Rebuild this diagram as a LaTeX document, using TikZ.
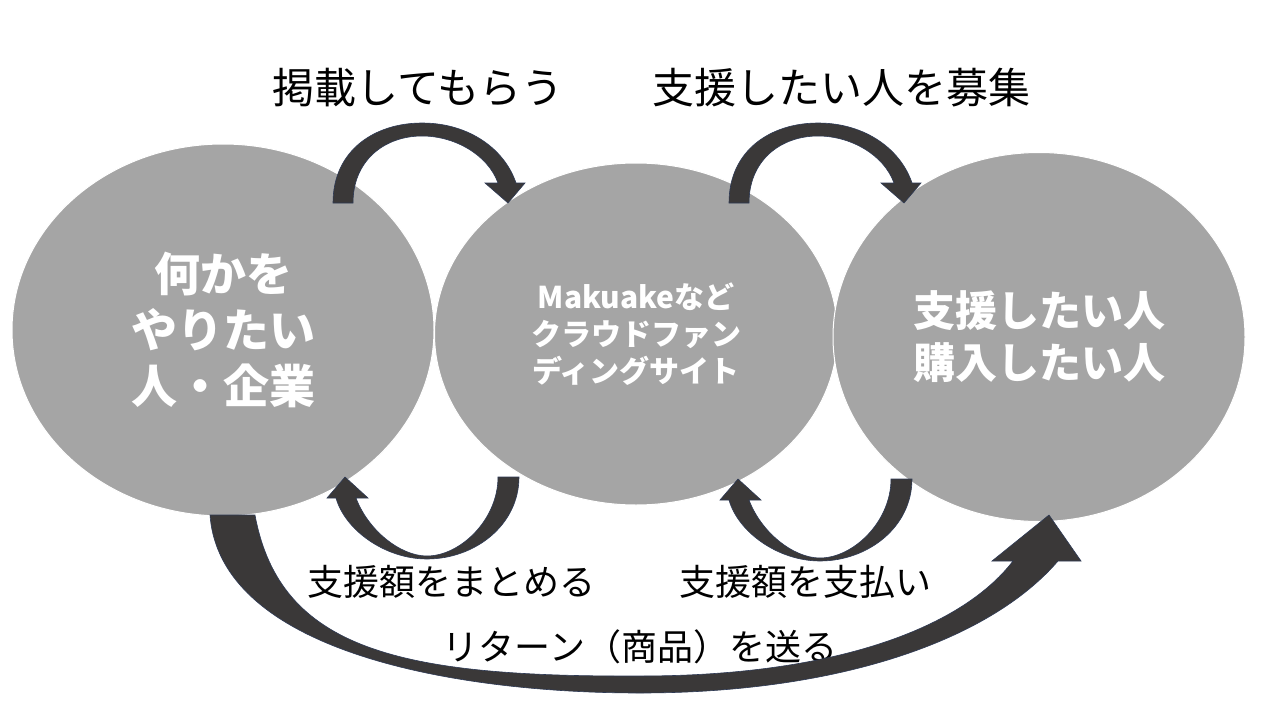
\documentclass[tikz,border=0pt]{standalone}
\usepackage{fontspec}
\newfontfamily\jp{Noto Sans CJK JP}
\usetikzlibrary{shapes.geometric}
\definecolor{bubblegray}{HTML}{A5A5A5}
\definecolor{arrowfill}{HTML}{3A3838}
\definecolor{arrowline}{HTML}{2E3A55}

\begin{document}
\begin{tikzpicture}[x=1pt,y=-1pt,
  bubble/.style={ellipse, fill=bubblegray, draw=white, line width=1pt, inner sep=0pt, text=white, align=center},
  bigarrow/.style={fill=arrowfill, draw=arrowline, line width=0.6pt},
  caption/.style={font=\jp\fontsize{42}{50}\selectfont},
  smallcaption/.style={font=\jp\fontsize{36}{44}\selectfont}]
  \useasboundingbox[fill=white] (0,0) rectangle (1280,720);

  \node[bubble, minimum width=422pt, minimum height=372pt, font=\jp\bfseries\fontsize{46}{56}\selectfont] (maker) at (223,330) {何かを\\やりたい\\人・企業};
  \node[bubble, minimum width=403pt, minimum height=342pt, font=\jp\bfseries\fontsize{30}{37}\selectfont] (site) at (636,334) {Makuakeなど\\クラウドファン\\ディングサイト};
  \node[bubble, minimum width=412pt, minimum height=369pt, font=\jp\bfseries\fontsize{42}{52}\selectfont] (backer) at (1039,337) {支援したい人\\購入したい人};

  \node[caption] (post) at (418,88) {掲載してもらう};
  \node[caption] (recruit) at (841,88) {支援したい人を募集};
  \node[smallcaption] (pool) at (451,582) {支援額をまとめる};
  \node[smallcaption] (pay) at (805,582) {支援額を支払い};
  \node[smallcaption] (ret) at (640,647) {リターン（商品）を送る};

  \draw[bigarrow] (333,203) .. controls (333,150) and (375,123) .. (422,123) .. controls (470,123) and (505,150) .. (516,183) -- (525,183) -- (508,203) -- (485,183) -- (498,183) .. controls (488,155) and (455,136) .. (422,136) .. controls (385,136) and (353,160) .. (353,203) -- cycle;
  \draw[bigarrow, xshift=396pt] (333,203) .. controls (333,150) and (375,123) .. (422,123) .. controls (470,123) and (505,150) .. (516,183) -- (525,183) -- (508,203) -- (485,183) -- (498,183) .. controls (488,155) and (455,136) .. (422,136) .. controls (385,136) and (353,160) .. (353,203) -- cycle;
  \draw[bigarrow] (519,477) .. controls (519,525) and (475,559) .. (427,559) .. controls (385,559) and (345,530) .. (336,498) -- (327,498) -- (345,477) -- (368,498) -- (356,498) .. controls (368,530) and (400,556) .. (427,556) .. controls (460,556) and (498,520) .. (498,477) -- cycle;
  \draw[bigarrow, xshift=393pt, yshift=-2pt] (519,477) .. controls (519,525) and (475,559) .. (427,559) .. controls (385,559) and (345,530) .. (336,498) -- (327,498) -- (345,477) -- (368,498) -- (356,498) .. controls (368,530) and (400,556) .. (427,556) .. controls (460,556) and (498,520) .. (498,477) -- cycle;
  \draw[bigarrow] (210,515) .. controls (220,650) and (450,693) .. (640,693) .. controls (840,693) and (990,640) .. (1058,561) -- (1081,561) -- (1049,515) -- (992,561) -- (1013,561) .. controls (960,630) and (830,676) .. (640,676) .. controls (400,677) and (280,650) .. (255,515) -- cycle;
\end{tikzpicture}
\end{document}
